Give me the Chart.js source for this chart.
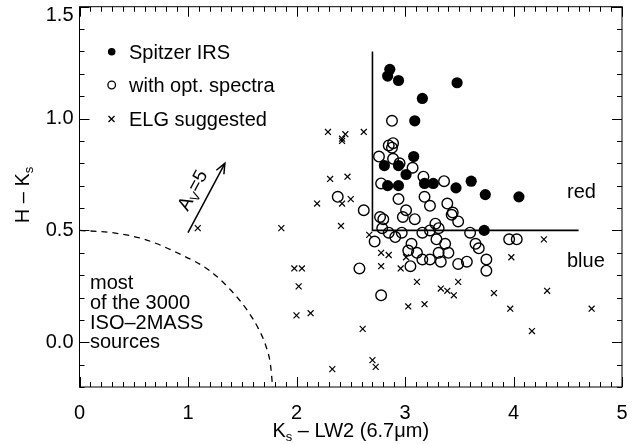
<!DOCTYPE html>
<html lang="en">
<head>
  <meta charset="UTF-8">
  <title>H - Ks vs Ks - LW2</title>
  <script src="https://cdn.jsdelivr.net/npm/chart.js"></script>
  <style>
    html, body { margin: 0; padding: 0; background: #fff; }
    #wrap { width: 643px; height: 444px; }
  </style>
</head>
<body>
  <div id="wrap"><canvas id="chart" width="643" height="444"></canvas></div>

  <script>
    // Spitzer IRS sources (filled circles)
    const spitzerX = [2.86, 2.84, 2.94, 3.48, 3.16, 3.09, 3.08, 2.81, 2.94, 3.01, 2.84, 2.94, 3.18, 3.26, 3.47, 3.61, 3.74, 4.05, 3.73];
    const spitzerY = [1.22, 1.19, 1.17, 1.16, 1.09, 0.99, 0.83, 0.79, 0.79, 0.75, 0.70, 0.70, 0.71, 0.71, 0.69, 0.72, 0.66, 0.65, 0.50];

    // sources with optical spectra (open circles)
    const optX = [2.88, 2.85, 2.89, 2.88, 2.76, 2.89, 2.95, 3.07, 3.17, 2.78, 3.36, 2.94, 3.18, 3.23, 3.39, 2.62, 2.77, 2.80, 3.01, 2.98,
                  3.09, 3.44, 3.43, 3.49, 3.28, 3.31, 2.79, 2.85, 2.91, 2.97, 3.16, 3.23, 3.60, 2.72, 3.29, 3.06, 3.37, 3.03, 3.65, 3.68,
                  3.96, 4.03, 3.11, 3.31, 3.40, 3.16, 3.23, 3.33, 3.05, 3.49, 3.57, 3.75, 3.75, 2.58, 2.78, 2.38];
    const optY = [0.99, 0.88, 0.89, 0.87, 0.83, 0.82, 0.80, 0.78, 0.74, 0.71, 0.72, 0.64, 0.65, 0.61, 0.62, 0.59, 0.56, 0.55, 0.59, 0.56,
                  0.55, 0.58, 0.57, 0.54, 0.53, 0.51, 0.51, 0.49, 0.47, 0.49, 0.49, 0.50, 0.49, 0.45, 0.46, 0.44, 0.44, 0.41, 0.44, 0.42,
                  0.46, 0.46, 0.40, 0.40, 0.40, 0.37, 0.37, 0.36, 0.34, 0.35, 0.36, 0.37, 0.32, 0.33, 0.21, 0.65];

    // ELG suggested (crosses)
    const elgX = [2.29, 2.42, 2.45, 2.42, 2.62, 2.31, 2.47, 2.19, 2.42, 2.50, 1.86, 2.41, 2.67, 2.78, 2.85, 3.01, 2.78, 2.96, 4.28, 3.98,
                  3.11, 3.49, 3.33, 3.39, 3.45, 3.82, 4.31, 3.03, 3.18, 3.97, 4.17, 4.72, 1.98, 2.05, 2.02, 2.00, 2.13, 2.61, 2.70, 2.73,
                  2.33, 1.09];
    const elgY = [0.94, 0.90, 0.93, 0.91, 0.94, 0.73, 0.74, 0.62, 0.62, 0.64, 0.51, 0.52, 0.48, 0.40, 0.39, 0.38, 0.34, 0.33, 0.46, 0.38,
                  0.27, 0.27, 0.24, 0.23, 0.21, 0.22, 0.23, 0.16, 0.17, 0.15, 0.05, 0.15, 0.33, 0.33, 0.25, 0.12, 0.13, 0.06, -0.08, -0.11,
                  -0.12, 0.51];

    // red / blue dividing lines
    const boxX = [2.7, 2.7, 4.6];
    const boxY = [1.3, 0.5, 0.5];

    // dashed boundary of the bulk of ISO-2MASS sources
    const curveX = [0, 0.3, 0.6, 0.9, 1.2, 1.4, 1.55, 1.65, 1.72, 1.76, 1.78];
    const curveY = [0.5, 0.49, 0.46, 0.40, 0.32, 0.23, 0.14, 0.06, -0.02, -0.10, -0.2];

    // extinction vector A_V = 5
    const arrowX = [1.0, 1.34];
    const arrowY = [0.49, 0.80];

    const xTicks = [0, 1, 2, 3, 4, 5];
    const yTicks = [0, 0.5, 1.0, 1.5];

    const FONT = '"Liberation Sans", Arial, Helvetica, sans-serif';

    const toXY = (xs, ys) => xs.map((v, i) => ({ x: v, y: ys[i] }));

    // draws text pieces in a row, some of them as subscripts
    function richText(ctx, parts, x, y, align) {
      let total = 0;
      parts.forEach(p => {
        ctx.font = `${p.size}px ${FONT}`;
        p.w = ctx.measureText(p.t).width;
        total += p.w;
      });
      let cx = align === 'center' ? x - total / 2 : x;
      parts.forEach(p => {
        ctx.font = `${p.size}px ${FONT}`;
        ctx.fillText(p.t, cx, y + (p.dy || 0));
        cx += p.w;
      });
    }

    const decor = {
      id: 'decor',
      afterDraw(chart) {
        const { ctx, chartArea: a, scales: { x, y } } = chart;
        ctx.save();
        ctx.strokeStyle = '#000';
        ctx.fillStyle = '#000';
        ctx.lineWidth = 1;

        // frame
        ctx.strokeRect(a.left, a.top, a.right - a.left, a.bottom - a.top);

        // inward ticks on all four sides
        ctx.beginPath();
        for (let i = 0; i <= 50; i++) {
          const px = Math.round(x.getPixelForValue(i / 10)) + 0.5;
          const len = i % 10 === 0 ? 10 : 5;
          ctx.moveTo(px, a.bottom); ctx.lineTo(px, a.bottom - len);
          ctx.moveTo(px, a.top); ctx.lineTo(px, a.top + len);
        }
        for (let i = -2; i <= 15; i++) {
          const py = Math.round(y.getPixelForValue(i / 10)) + 0.5;
          const len = i % 5 === 0 ? 10 : 5;
          ctx.moveTo(a.left, py); ctx.lineTo(a.left + len, py);
          ctx.moveTo(a.right, py); ctx.lineTo(a.right - len, py);
        }
        ctx.stroke();

        // y tick labels, the top one kept inside the canvas
        ctx.font = `20px ${FONT}`;
        ctx.textAlign = 'right';
        ctx.textBaseline = 'middle';
        yTicks.forEach(v => {
          const py = Math.max(y.getPixelForValue(v), 15);
          ctx.fillText(v.toFixed(1), a.left - 6, py);
        });

        // arrow head + label
        const p1 = { x: x.getPixelForValue(arrowX[0]), y: y.getPixelForValue(arrowY[0]) };
        const p2 = { x: x.getPixelForValue(arrowX[1]), y: y.getPixelForValue(arrowY[1]) };
        const ang = Math.atan2(p2.y - p1.y, p2.x - p1.x);
        ctx.lineWidth = 1.5;
        ctx.beginPath();
        ctx.moveTo(p2.x - 11 * Math.cos(ang - 0.4), p2.y - 11 * Math.sin(ang - 0.4));
        ctx.lineTo(p2.x, p2.y);
        ctx.lineTo(p2.x - 11 * Math.cos(ang + 0.4), p2.y - 11 * Math.sin(ang + 0.4));
        ctx.stroke();

        ctx.save();
        ctx.translate((p1.x + p2.x) / 2 - 5, (p1.y + p2.y) / 2 - 3);
        ctx.rotate(ang);
        ctx.textAlign = 'left';
        ctx.textBaseline = 'alphabetic';
        richText(ctx, [{ t: 'A', size: 19 }, { t: 'V', size: 13, dy: 4 }, { t: '=5', size: 19 }], 0, -4, 'center');
        ctx.restore();

        // legend
        ctx.beginPath();
        ctx.arc(111.7, 51.7, 3.8, 0, Math.PI * 2);
        ctx.fill();
        ctx.lineWidth = 1.3;
        ctx.beginPath();
        ctx.arc(111.7, 85, 3.8, 0, Math.PI * 2);
        ctx.stroke();
        ctx.beginPath();
        ctx.moveTo(108.5, 116); ctx.lineTo(114.5, 122);
        ctx.moveTo(108.5, 122); ctx.lineTo(114.5, 116);
        ctx.stroke();

        ctx.textAlign = 'left';
        ctx.textBaseline = 'alphabetic';
        ctx.font = `20px ${FONT}`;
        ctx.fillText('Spitzer IRS', 129, 58.5);
        ctx.fillText('with opt. spectra', 129, 92);
        ctx.fillText('ELG suggested', 129, 126);

        // region labels
        ctx.fillText('red', 567, 197.5);
        ctx.fillText('blue', 567, 266.5);
        ctx.fillText('most', 90, 289);
        ctx.fillText('of the 3000', 90, 309);
        ctx.fillText('ISO\u20132MASS', 90, 329);
        ctx.fillText('sources', 90, 348);

        // axis titles
        richText(ctx, [{ t: 'K', size: 20 }, { t: 's', size: 13, dy: 4 }, { t: ' \u2013 LW2 (6.7\u03bcm)', size: 20 }],
          (a.left + a.right) / 2, 437, 'center');
        ctx.save();
        ctx.translate(29, 195);
        ctx.rotate(-Math.PI / 2);
        richText(ctx, [{ t: 'H \u2013 K', size: 20 }, { t: 's', size: 13, dy: 4 }], 0, 0, 'center');
        ctx.restore();

        ctx.restore();
      }
    };

    new Chart(document.getElementById('chart'), {
      type: 'scatter',
      data: {
        datasets: [
          {
            label: 'ELG suggested',
            data: toXY(elgX, elgY),
            pointStyle: 'crossRot',
            pointRadius: 4.2,
            borderColor: '#000',
            backgroundColor: '#000',
            borderWidth: 1.2
          },
          {
            label: 'with opt. spectra',
            data: toXY(optX, optY),
            pointStyle: 'circle',
            pointRadius: 5.3,
            borderColor: '#000',
            backgroundColor: 'rgba(0,0,0,0)',
            borderWidth: 1.4
          },
          {
            label: 'Spitzer IRS',
            data: toXY(spitzerX, spitzerY),
            pointStyle: 'circle',
            pointRadius: 5.6,
            borderWidth: 0,
            backgroundColor: '#000'
          },
          {
            data: toXY(boxX, boxY),
            showLine: true,
            pointRadius: 0,
            borderColor: '#000',
            borderWidth: 1.6
          },
          {
            data: toXY(curveX, curveY),
            showLine: true,
            pointRadius: 0,
            borderColor: '#000',
            borderWidth: 1.3,
            borderDash: [6, 5],
            cubicInterpolationMode: 'monotone'
          },
          {
            data: toXY(arrowX, arrowY),
            showLine: true,
            pointRadius: 0,
            borderColor: '#000',
            borderWidth: 1.5
          }
        ]
      },
      options: {
        responsive: false,
        animation: false,
        layout: { padding: { left: 0, right: 21, top: 5.5, bottom: 0 } },
        plugins: {
          legend: { display: false },
          tooltip: { enabled: false }
        },
        scales: {
          x: {
            type: 'linear',
            min: 0,
            max: 5,
            grid: { display: false, drawTicks: false },
            border: { display: false },
            afterBuildTicks: s => { s.ticks = xTicks.map(v => ({ value: v })); },
            afterFit: s => { s.height = 57; s.paddingLeft = 0; s.paddingRight = 0; },
            ticks: {
              color: '#000',
              font: { family: FONT, size: 20 },
              padding: 14,
              maxRotation: 0,
              autoSkip: false,
              callback: v => String(v)
            }
          },
          y: {
            type: 'linear',
            min: -0.2,
            max: 1.5,
            grid: { display: false, drawTicks: false },
            border: { display: false },
            afterBuildTicks: s => { s.ticks = yTicks.map(v => ({ value: v })); },
            afterFit: s => { s.width = 79.5; s.paddingTop = 0; s.paddingBottom = 0; },
            ticks: { display: false }
          }
        }
      },
      plugins: [decor]
    });
  </script>
</body>
</html>
